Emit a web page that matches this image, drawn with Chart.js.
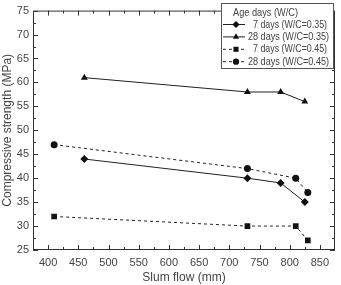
<!DOCTYPE html>
<html>
<head>
<meta charset="utf-8">
<script src="https://cdn.jsdelivr.net/npm/chart.js@4"></script>
<style>
  html, body { margin: 0; padding: 0; background: #fff; }
  #wrap { width: 341px; height: 285px; }
</style>
</head>
<body>
<div id="wrap"><canvas id="c" width="341" height="285"></canvas></div>
<script>
// data
const flow735 = [460, 730, 785, 825];
const flow745 = [410, 730, 810, 830];
const d7_035 = [44, 40, 39, 35];
const d28_035 = [61, 58, 58, 56];
const d7_045 = [32, 30, 30, 27];
const d28_045 = [47, 42, 40, 37];
const seriesNames = ['7 days (W/C=0.35)', '28 days (W/C=0.35)', '7 days (W/C=0.45)', '28 days (W/C=0.45)'];
const xTicks = [400, 450, 500, 550, 600, 650, 700, 750, 800, 850];
const yTicks = [25, 30, 35, 40, 45, 50, 55, 60, 65, 70, 75];

const FONT = '"Liberation Sans", Arial, sans-serif';
const TXT = '#444';

function pts(xs, ys) {
    return xs.map((x, i) => ({ x: x, y: ys[i] }));
}

const styles = [
    { shape: 'rectRot', dash: [], r: 4 },
    { shape: 'triangle', dash: [], r: 4 },
    { shape: 'rect', dash: [3, 3], r: 4 },
    { shape: 'circle', dash: [3, 3], r: 3.5 }
];
const allData = [pts(flow735, d7_035), pts(flow735, d28_035), pts(flow745, d7_045), pts(flow745, d28_045)];

// box with inward ticks on all 4 sides + legend
const frame = {
    id: 'frame',
    afterDraw(chart) {
        const { ctx, chartArea: a, scales } = chart;
        ctx.save();
        ctx.strokeStyle = '#333';
        ctx.lineWidth = 1;
        ctx.strokeRect(a.left + 0.5, a.top + 0.5, a.right - a.left - 1, a.bottom - a.top - 1);
        ctx.beginPath();
        for (let v = 375; v <= 875; v += 25) {
            const x = Math.round(scales.x.getPixelForValue(v)) + 0.5;
            if (x <= a.left + 1 || x >= a.right - 1) continue;
            const len = v % 50 === 0 ? 5 : 3;
            ctx.moveTo(x, a.bottom); ctx.lineTo(x, a.bottom - len);
            ctx.moveTo(x, a.top); ctx.lineTo(x, a.top + len);
        }
        for (let v = 25; v <= 75; v += 2.5) {
            const y = Math.round(scales.y.getPixelForValue(v)) + 0.5;
            const len = v % 5 === 0 ? 5 : 3;
            ctx.moveTo(a.left, y); ctx.lineTo(a.left + len, y);
            ctx.moveTo(a.right, y); ctx.lineTo(a.right - len, y);
        }
        ctx.stroke();

        // legend
        const bx = 221, by = 3, bw = 112, bh = 65;
        ctx.fillStyle = '#fff';
        ctx.fillRect(bx, by, bw, bh);
        ctx.strokeStyle = '#555';
        ctx.strokeRect(bx + 0.5, by + 0.5, bw, bh);
        ctx.font = '11px ' + FONT;
        ctx.fillStyle = TXT;
        ctx.textBaseline = 'middle';
        ctx.fillText('Age days (W/C)', 233, 13, 65);
        seriesNames.forEach((name, i) => {
            const y = 24.5 + i * 12.4;
            const st = styles[i];
            ctx.strokeStyle = '#222';
            ctx.setLineDash(st.dash);
            ctx.beginPath();
            ctx.moveTo(223, y); ctx.lineTo(245, y);
            ctx.stroke();
            ctx.setLineDash([]);
            ctx.fillStyle = '#111';
            Chart.helpers.drawPoint(ctx, { pointStyle: st.shape, radius: st.r * 0.9, borderWidth: 0 }, 236, y);
            ctx.fillStyle = TXT;
            const is7 = name.startsWith('7');
            ctx.fillText(name, is7 ? 253 : 248, y, is7 ? 74 : 81);
        });
        ctx.restore();
    }
};

new Chart(document.getElementById('c'), {
    type: 'scatter',
    data: {
        datasets: allData.map((d, i) => ({
            label: seriesNames[i],
            data: d,
            showLine: true,
            borderColor: '#222',
            borderWidth: 1,
            borderDash: styles[i].dash,
            backgroundColor: '#111',
            pointBackgroundColor: '#111',
            pointBorderColor: '#111',
            pointBorderWidth: 0,
            pointStyle: styles[i].shape,
            pointRadius: styles[i].r,
            tension: 0
        }))
    },
    options: {
        responsive: false,
        animation: false,
        layout: { padding: { top: 7, right: 6, left: 0, bottom: 0 } },
        plugins: { legend: { display: false }, tooltip: { enabled: false } },
        scales: {
            x: {
                type: 'linear',
                min: 375,
                max: 875,
                afterBuildTicks(s) { s.ticks = xTicks.map(v => ({ value: v })); },
                afterFit(s) { s.height = 35; },
                grid: { display: false, drawTicks: false },
                border: { display: false },
                ticks: { color: TXT, font: { family: FONT, size: 11 }, padding: 6, maxRotation: 0, autoSkip: false },
                title: { display: true, text: 'Slum flow (mm)', color: TXT, font: { family: FONT, size: 12 }, padding: { top: 1, bottom: 0 } }
            },
            y: {
                min: 25,
                max: 75,
                afterBuildTicks(s) { s.ticks = yTicks.map(v => ({ value: v })); },
                afterFit(s) { s.width = 33; },
                grid: { display: false, drawTicks: false },
                border: { display: false },
                ticks: { color: TXT, font: { family: FONT, size: 11 }, padding: 4, autoSkip: false },
                title: { display: true, text: 'Compressive strength (MPa)', color: TXT, font: { family: FONT, size: 12 }, padding: { top: 0, bottom: 0 } }
            }
        }
    },
    plugins: [frame]
});
</script>
</body>
</html>
